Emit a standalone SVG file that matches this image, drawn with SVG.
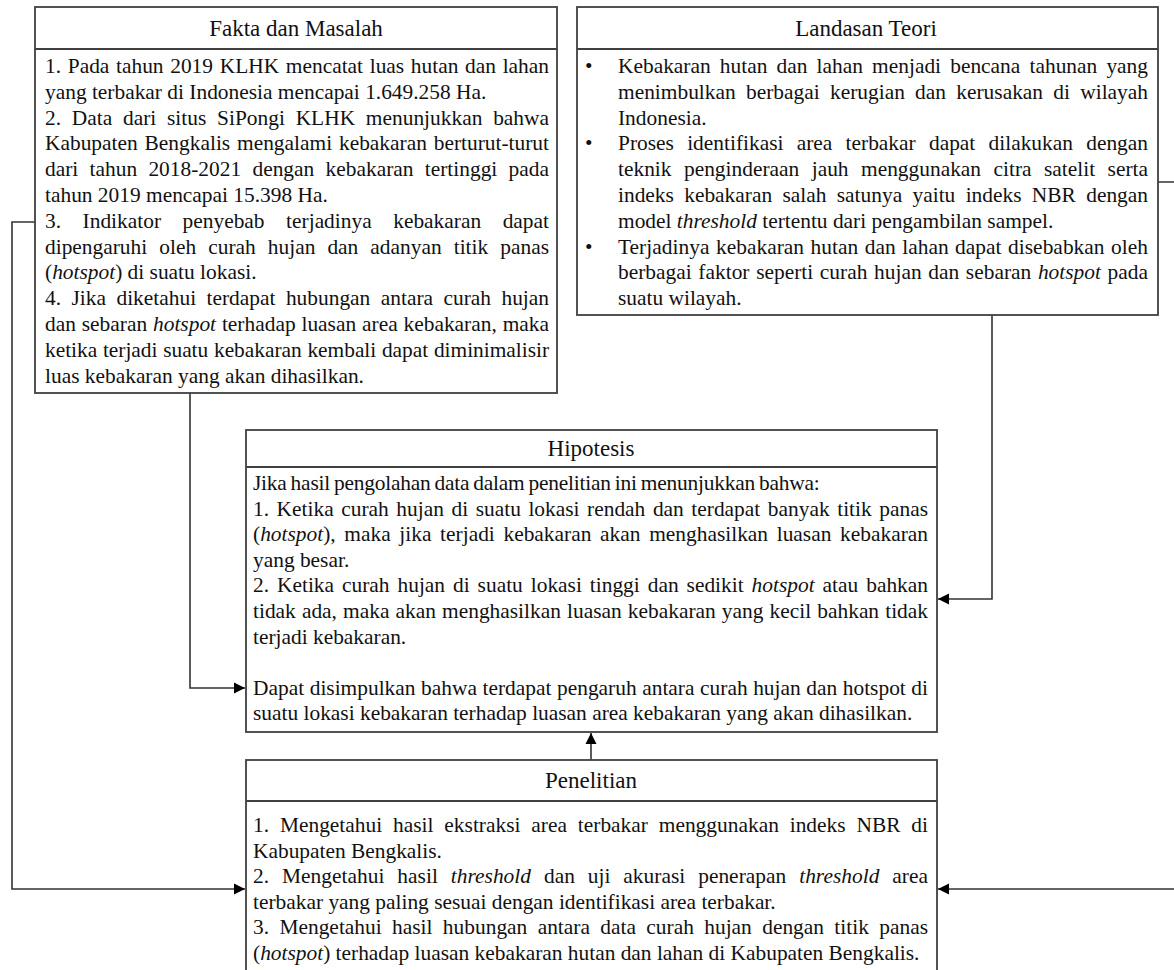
<svg xmlns="http://www.w3.org/2000/svg" width="1174" height="970" viewBox="0 0 1174 970">
<defs>
<style>
.box{fill:#fff;stroke:#404040;stroke-width:1.8}
.div{stroke:#404040;stroke-width:1.8}
.t{font-family:"Liberation Serif","Times New Roman",serif;font-size:21.4px;fill:#111}
.title{font-family:"Liberation Serif","Times New Roman",serif;font-size:23px;fill:#111;text-anchor:middle}
.i{font-style:italic}
.con{fill:none;stroke:#333;stroke-width:1.6}
</style>
<marker id="arr" markerWidth="12" markerHeight="12" refX="11" refY="6" orient="auto" markerUnits="userSpaceOnUse">
<path d="M0,0.5 L11,6 L0,11.5 z" fill="#000"/>
</marker>
</defs>
<rect width="1174" height="970" fill="#fff"/>

<g id="connectors">
<path class="con" d="M35,222 H12 V889 H245" marker-end="url(#arr)"/>
<path class="con" d="M190,393 V688 H245" marker-end="url(#arr)"/>
<path class="con" d="M992,315 V599 H938" marker-end="url(#arr)"/>
<path class="con" d="M1158,182 H1180 V889 H938" marker-end="url(#arr)"/>
<path class="con" d="M591,760 V733" marker-end="url(#arr)"/>
</g>

<g id="fakta">
<rect class="box" x="35" y="7" width="522" height="386"/>
<line class="div" x1="35" y1="49" x2="557" y2="49"/>
<text class="title" x="296" y="36">Fakta dan Masalah</text>
<text class="t" x="45" y="73" word-spacing="1.3" textLength="504" lengthAdjust="spacing">1. Pada tahun 2019 KLHK mencatat luas hutan dan lahan</text>
<text class="t" x="45" y="98.8">yang terbakar di Indonesia mencapai 1.649.258 Ha.</text>
<text class="t" x="45" y="124.6" word-spacing="5.4" textLength="504" lengthAdjust="spacing">2. Data dari situs SiPongi KLHK menunjukkan bahwa</text>
<text class="t" x="45" y="150.4" word-spacing="1.5" textLength="504" lengthAdjust="spacing">Kabupaten Bengkalis mengalami kebakaran berturut-turut</text>
<text class="t" x="45" y="176.2" word-spacing="5.9" textLength="504" lengthAdjust="spacing">dari tahun 2018-2021 dengan kebakaran tertinggi pada</text>
<text class="t" x="45" y="202">tahun 2019 mencapai 15.398 Ha.</text>
<text class="t" x="45" y="227.8" word-spacing="16.2" textLength="504" lengthAdjust="spacing">3. Indikator penyebab terjadinya kebakaran dapat</text>
<text class="t" x="45" y="253.6" word-spacing="6.7" textLength="504" lengthAdjust="spacing">dipengaruhi oleh curah hujan dan adanyan titik panas</text>
<text class="t" x="45" y="279.4">(<tspan class="i">hotspot</tspan>) di suatu lokasi.</text>
<text class="t" x="45" y="305.2" word-spacing="5.1" textLength="504" lengthAdjust="spacing">4. Jika diketahui terdapat hubungan antara curah hujan</text>
<text class="t" x="45" y="331" word-spacing="0.5" textLength="504" lengthAdjust="spacing">dan sebaran <tspan class="i">hotspot</tspan> terhadap luasan area kebakaran, maka</text>
<text class="t" x="45" y="356.8" word-spacing="0.4" textLength="504" lengthAdjust="spacing">ketika terjadi suatu kebakaran kembali dapat diminimalisir</text>
<text class="t" x="45" y="382.6">luas kebakaran yang akan dihasilkan.</text>
</g>

<g id="landasan">
<rect class="box" x="577" y="7" width="581" height="308"/>
<line class="div" x1="577" y1="49" x2="1158" y2="49"/>
<text class="title" x="866" y="36">Landasan Teori</text>
<text class="t" x="585" y="73">•</text>
<text class="t" x="585" y="150.4">•</text>
<text class="t" x="585" y="253.6">•</text>
<text class="t" x="618" y="73" word-spacing="3.8" textLength="530" lengthAdjust="spacing">Kebakaran hutan dan lahan menjadi bencana tahunan yang</text>
<text class="t" x="618" y="98.8" word-spacing="4.9" textLength="530" lengthAdjust="spacing">menimbulkan berbagai kerugian dan kerusakan di wilayah</text>
<text class="t" x="618" y="124.6">Indonesia.</text>
<text class="t" x="618" y="150.4" word-spacing="7.9" textLength="530" lengthAdjust="spacing">Proses identifikasi area terbakar dapat dilakukan dengan</text>
<text class="t" x="618" y="176.2" word-spacing="7.1" textLength="530" lengthAdjust="spacing">teknik penginderaan jauh menggunakan citra satelit serta</text>
<text class="t" x="618" y="202" word-spacing="5" textLength="530" lengthAdjust="spacing">indeks kebakaran salah satunya yaitu indeks NBR dengan</text>
<text class="t" x="618" y="227.8">model <tspan class="i">threshold</tspan> tertentu dari pengambilan sampel.</text>
<text class="t" x="618" y="253.6" word-spacing="1.1" textLength="530" lengthAdjust="spacing">Terjadinya kebakaran hutan dan lahan dapat disebabkan oleh</text>
<text class="t" x="618" y="279.4" word-spacing="1.3" textLength="530" lengthAdjust="spacing">berbagai faktor seperti curah hujan dan sebaran <tspan class="i">hotspot</tspan> pada</text>
<text class="t" x="618" y="305.2">suatu wilayah.</text>
</g>

<g id="hipotesis">
<rect class="box" x="246" y="430" width="691" height="302"/>
<line class="div" x1="246" y1="467" x2="937" y2="467"/>
<text class="title" x="591" y="456">Hipotesis</text>
<text class="t" x="253" y="490" word-spacing="-1.2" letter-spacing="-0.2">Jika hasil pengolahan data dalam penelitian ini menunjukkan bahwa:</text>
<text class="t" x="253" y="515.6" word-spacing="2.2" textLength="675" lengthAdjust="spacing">1. Ketika curah hujan di suatu lokasi rendah dan terdapat banyak titik panas</text>
<text class="t" x="253" y="541.2" word-spacing="3.3" textLength="675" lengthAdjust="spacing">(<tspan class="i">hotspot</tspan>), maka jika terjadi kebakaran akan menghasilkan luasan kebakaran</text>
<text class="t" x="253" y="566.8">yang besar.</text>
<text class="t" x="253" y="592.4" word-spacing="2.6" textLength="675" lengthAdjust="spacing">2. Ketika curah hujan di suatu lokasi tinggi dan sedikit <tspan class="i">hotspot</tspan> atau bahkan</text>
<text class="t" x="253" y="618" word-spacing="0.8" textLength="675" lengthAdjust="spacing">tidak ada, maka akan menghasilkan luasan kebakaran yang kecil bahkan tidak</text>
<text class="t" x="253" y="643.6">terjadi kebakaran.</text>
<text class="t" x="253" y="694.8" word-spacing="0.2" textLength="675" lengthAdjust="spacing">Dapat disimpulkan bahwa terdapat pengaruh antara curah hujan dan hotspot di</text>
<text class="t" x="253" y="720.4">suatu lokasi kebakaran terhadap luasan area kebakaran yang akan dihasilkan.</text>
</g>

<g id="penelitian">
<rect class="box" x="246" y="760" width="691" height="230"/>
<line class="div" x1="246" y1="801" x2="937" y2="801"/>
<text class="title" x="591" y="788">Penelitian</text>
<text class="t" x="253" y="832" word-spacing="5.5" textLength="675" lengthAdjust="spacing">1. Mengetahui hasil ekstraksi area terbakar menggunakan indeks NBR di</text>
<text class="t" x="253" y="857.6">Kabupaten Bengkalis.</text>
<text class="t" x="253" y="883.2" word-spacing="7.5" textLength="675" lengthAdjust="spacing">2. Mengetahui hasil <tspan class="i">threshold</tspan> dan uji akurasi penerapan <tspan class="i">threshold</tspan> area</text>
<text class="t" x="253" y="908.8">terbakar yang paling sesuai dengan identifikasi area terbakar.</text>
<text class="t" x="253" y="934.4" word-spacing="5" textLength="675" lengthAdjust="spacing">3. Mengetahui hasil hubungan antara data curah hujan dengan titik panas</text>
<text class="t" x="253" y="960">(<tspan class="i">hotspot</tspan>) terhadap luasan kebakaran hutan dan lahan di Kabupaten Bengkalis.</text>
</g>
</svg>
